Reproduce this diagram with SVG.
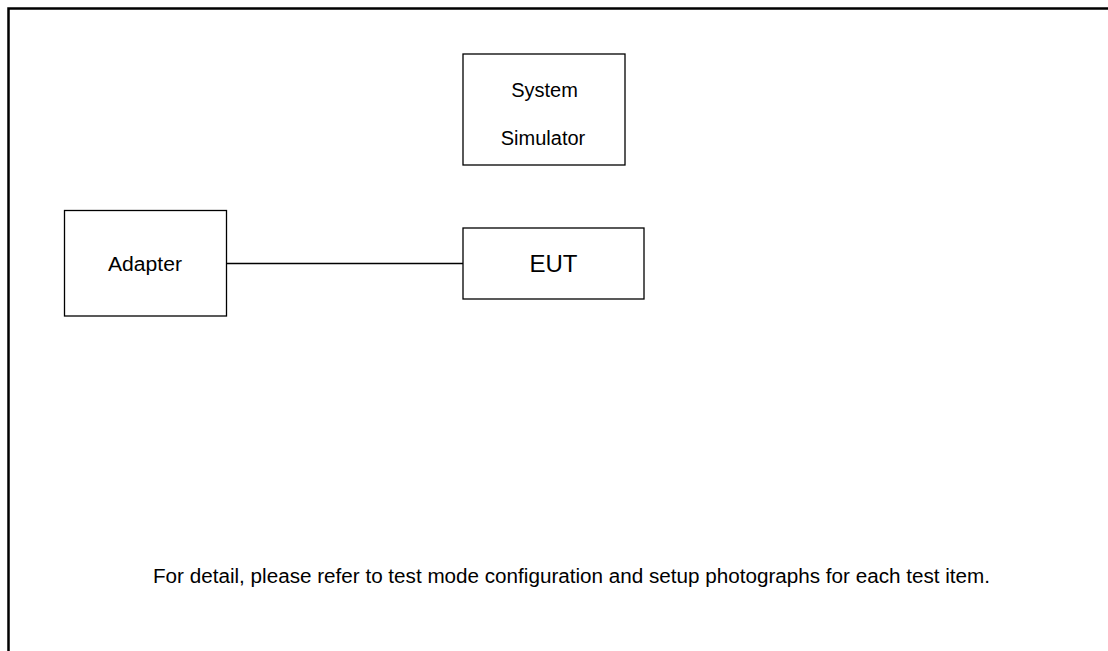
<svg xmlns="http://www.w3.org/2000/svg" width="1108" height="651" viewBox="0 0 1108 651">
<style>
.box{fill:#fff;stroke:#000;stroke-width:1.3}
.t{font-family:"Liberation Sans",Arial,sans-serif;font-size:20px;fill:#000;text-anchor:middle}
.frame{fill:none;stroke:#000;stroke-width:2.5}
.conn{stroke:#000;stroke-width:1.6;fill:none}
</style>
<rect x="0" y="0" width="1108" height="651" fill="#fff"/>
<path class="frame" d="M8.5 651 V8.5 H1108"/>
<g id="connectors">
<line class="conn" x1="227" y1="263.5" x2="463" y2="263.5"/>
</g>
<g id="system-simulator">
<rect class="box" x="463" y="54" width="162" height="111"/>
<text class="t" x="544.5" y="96.5">System</text>
<text class="t" x="543" y="145">Simulator</text>
</g>
<g id="adapter">
<rect class="box" x="64.5" y="210.5" width="162" height="105.5"/>
<text class="t" x="145" y="270.5" textLength="74" lengthAdjust="spacingAndGlyphs">Adapter</text>
</g>
<g id="eut">
<rect class="box" x="463" y="228" width="181" height="71"/>
<text class="t" x="553.5" y="272" style="font-size:24px">EUT</text>
</g>
<text class="t" x="571.5" y="583" textLength="837" lengthAdjust="spacingAndGlyphs">For detail, please refer to test mode configuration and setup photographs for each test item.</text>
</svg>
